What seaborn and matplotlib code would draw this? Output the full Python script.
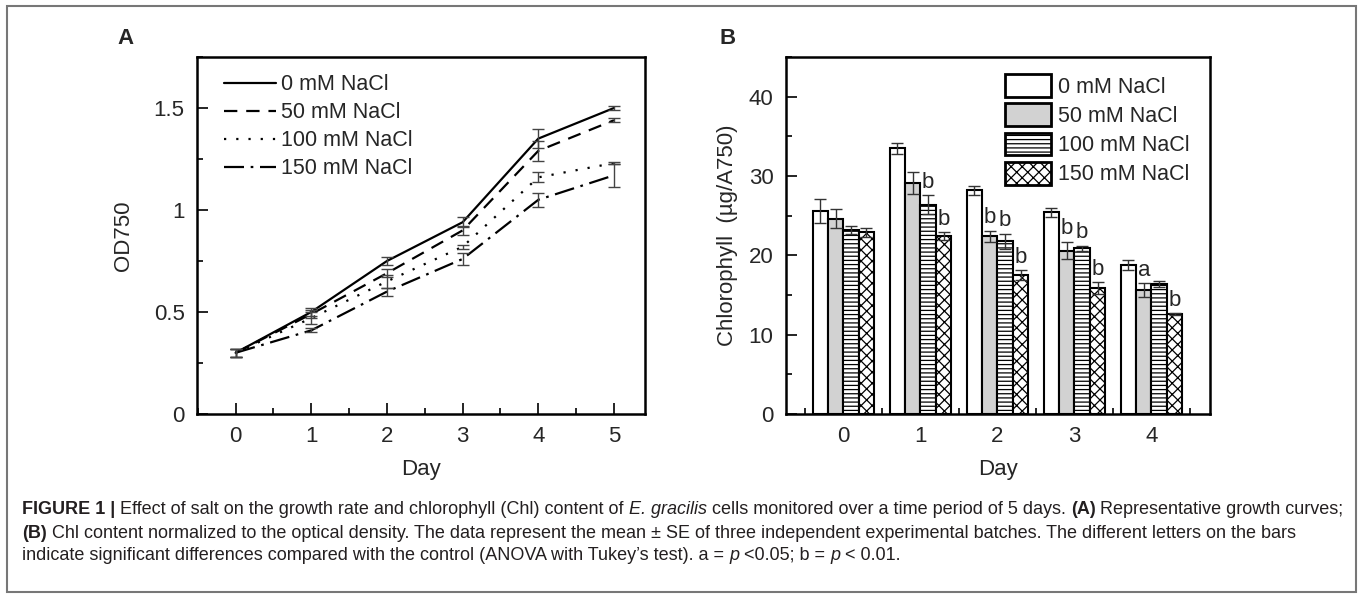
import numpy as np
import pandas as pd
import seaborn as sns
import matplotlib
matplotlib.use("Agg")
from matplotlib import pyplot as plt
from matplotlib.patches import Patch, Rectangle
from matplotlib.lines import Line2D
from matplotlib.ticker import MultipleLocator

# ---- panel A: growth curves (OD750) ----
days_a = [0, 1, 2, 3, 4, 5]
salts = ['0 mM NaCl', '50 mM NaCl', '100 mM NaCl', '150 mM NaCl']
od_0 = [0.30, 0.50, 0.75, 0.94, 1.35, 1.50]
od_50 = [0.30, 0.49, 0.69, 0.90, 1.29, 1.44]
od_100 = [0.30, 0.47, 0.65, 0.82, 1.16, 1.23]
od_150 = [0.30, 0.41, 0.60, 0.76, 1.05, 1.17]
od_err_0 = [0.02, 0.02, 0.02, 0.025, 0.046, 0.012]
od_err_50 = [0.02, 0.02, 0.02, 0.023, 0.05, 0.01]
od_err_100 = [0.02, 0.03, 0.03, 0.01, 0.025, 0.005]
od_err_150 = [0.02, 0.01, 0.02, 0.03, 0.035, 0.057]

# ---- panel B: chlorophyll content ----
days_b = [0, 1, 2, 3, 4]
chl_0 = [25.6, 33.5, 28.2, 25.4, 18.8]
chl_50 = [24.6, 29.1, 22.4, 20.6, 15.6]
chl_100 = [23.2, 26.4, 21.8, 20.9, 16.4]
chl_150 = [22.9, 22.4, 17.5, 15.9, 12.6]
chl_err_0 = [1.5, 0.7, 0.6, 0.55, 0.6]
chl_err_50 = [1.2, 1.4, 0.7, 1.1, 0.9]
chl_err_100 = [0.5, 1.2, 0.95, 0.3, 0.35]
chl_err_150 = [0.6, 0.5, 0.6, 0.75, 0.1]
sig_0 = ['', '', '', '', '']
sig_50 = ['', '', 'b', 'b', 'a']
sig_100 = ['', 'b', 'b', 'b', '']
sig_150 = ['', 'b', 'b', 'b', 'b']

od_means = [od_0, od_50, od_100, od_150]
od_errs = [od_err_0, od_err_50, od_err_100, od_err_150]
chl_means = [chl_0, chl_50, chl_100, chl_150]
chl_errs = [chl_err_0, chl_err_50, chl_err_100, chl_err_150]
sigs = [sig_0, sig_50, sig_100, sig_150]

df_a = pd.DataFrame([(d, s, v) for s, vals in zip(salts, od_means) for d, v in zip(days_a, vals)],
                    columns=['Day', 'salt', 'OD750'])
df_b = pd.DataFrame([(d, s, v) for s, vals in zip(salts, chl_means) for d, v in zip(days_b, vals)],
                    columns=['Day', 'salt', 'chl'])

sns.set_style('ticks')
plt.rcParams['font.family'] = ['Liberation Sans', 'DejaVu Sans']
plt.rcParams['hatch.linewidth'] = 0.9

W, H = 1360, 598
fig = plt.figure(figsize=(W / 100, H / 100), dpi=100)
axA = fig.add_axes([197 / W, 1 - 414 / H, (645 - 197) / W, (414 - 57) / H])
axB = fig.add_axes([786 / W, 1 - 414 / H, (1210 - 786) / W, (414 - 57) / H])

fs = 16
lfs = 15.5

# panel A
dash_map = {salts[0]: '', salts[1]: (6, 4), salts[2]: (1, 4.5), salts[3]: (9, 3, 1.2, 3)}
sns.lineplot(data=df_a, x='Day', y='OD750', hue='salt', style='salt', dashes=dash_map,
             palette=['black'] * 4, linewidth=1.6, legend=False, ax=axA)
for vals, errs in zip(od_means, od_errs):
    axA.errorbar(days_a, vals, yerr=errs, fmt='none', ecolor='#444444', elinewidth=1,
                 capsize=4, capthick=1)
axA.set_xlim(-0.51, 5.41)
axA.set_ylim(0, 1.75)
axA.xaxis.set_major_locator(MultipleLocator(1))
axA.xaxis.set_minor_locator(MultipleLocator(0.5))
axA.yaxis.set_minor_locator(MultipleLocator(0.25))
axA.set_yticks([0, 0.5, 1.0, 1.5])
axA.set_yticklabels(['0', '0.5', '1', '1.5'])
axA.set_xlabel('Day', fontsize=fs, labelpad=8)
axA.set_ylabel('OD750', fontsize=fs, labelpad=14)
handles_a = [Line2D([], [], color='black', lw=1.6, linestyle=(0, dash_map[s]) if dash_map[s] else '-')
             for s in salts]
axA.legend(handles_a, salts, loc='upper left', frameon=False, fontsize=lfs, handlelength=2.4,
           handletextpad=0.25, labelspacing=0.33, borderaxespad=0, borderpad=0,
           bbox_to_anchor=(0.06, 0.952))

# panel B
fills = ['white', '#d2d2d2', 'white', 'white']
hatches = ['', '', '----', 'xxx']
sns.barplot(data=df_b, x='Day', y='chl', hue='salt', palette=fills,
            edgecolor='black', linewidth=1.5, width=0.8, errorbar=None, ax=axB)
bar_conts = list(axB.containers)
for i, cont in enumerate(bar_conts):
    for j, bar in enumerate(cont.patches):
        bar.set_hatch(hatches[i])
        xc = bar.get_x() + bar.get_width() / 2
        top = chl_means[i][j] + chl_errs[i][j]
        axB.errorbar(xc, chl_means[i][j], yerr=chl_errs[i][j], fmt='none', ecolor='#333333',
                     elinewidth=1, capsize=4.5, capthick=1)
        if sigs[i][j]:
            axB.text(xc, top + 0.3, sigs[i][j], ha='center', va='bottom', fontsize=fs)
axB.set_xlim(-0.745, 4.76)
axB.set_ylim(0, 45)
axB.xaxis.set_minor_locator(MultipleLocator(0.5))
axB.yaxis.set_major_locator(MultipleLocator(10))
axB.yaxis.set_minor_locator(MultipleLocator(5))
axB.set_xlabel('Day', fontsize=fs, labelpad=8)
axB.set_ylabel('Chlorophyll  (\u00b5g/A750)', fontsize=fs, labelpad=8)
handles_b = [Patch(facecolor=fills[i], edgecolor='black', linewidth=2, hatch=hatches[i]) for i in range(4)]
axB.legend(handles_b, salts, loc='upper left', frameon=False, fontsize=lfs, handlelength=2.15,
           handleheight=1.25, handletextpad=0.3, labelspacing=0.26, borderaxespad=0, borderpad=0,
           bbox_to_anchor=(0.5165, 0.952))

for ax in (axA, axB):
    for sp in ax.spines.values():
        sp.set_visible(True)
        sp.set_linewidth(1.8)
        sp.set_color('black')
    ax.tick_params(which='both', direction='in', width=1.2, labelsize=fs, color='black')
    ax.tick_params(which='major', length=8, pad=9)
    ax.tick_params(which='minor', length=4)

fig.text(125 / W, 1 - 38 / H, 'A', fontsize=fs, weight='bold', ha='center', va='center')
fig.text(728 / W, 1 - 38 / H, 'B', fontsize=fs, weight='bold', ha='center', va='center')

# outer frame
fig.add_artist(Rectangle((7 / W, 1 - 592 / H), (1356 - 7) / W, (592 - 6) / H, transform=fig.transFigure,
                         fill=False, edgecolor='#777777', linewidth=1.5))

# caption with mixed weights
cap_lines = [
    [('FIGURE 1 |', 'bold', 'normal'), ('Effect of salt on the growth rate and chlorophyll (Chl) content of', 'normal', 'normal'),
     ('E. gracilis', 'normal', 'italic'), ('cells monitored over a time period of 5 days.', 'normal', 'normal'),
     ('(A)', 'bold', 'normal'), ('Representative growth curves;', 'normal', 'normal')],
    [('(B)', 'bold', 'normal'), ('Chl content normalized to the optical density. The data represent the mean \u00b1 SE of three '
                                 'independent experimental batches. The different letters on the bars', 'normal', 'normal')],
    [('indicate significant differences compared with the control (ANOVA with Tukey\u2019s test). a =', 'normal', 'normal'),
     ('p', 'normal', 'italic'), ('<0.05; b =', 'normal', 'normal'), ('p', 'normal', 'italic'), ('< 0.01.', 'normal', 'normal')],
]
cap_y = [510, 533, 555]
cap_fs = 13.0
cap_col = '#231f20'
renderer = fig.canvas.get_renderer()
probe = fig.text(0, 0, 'a a', fontsize=cap_fs)
w_sp = probe.get_window_extent(renderer).width
probe.set_text('aa')
w_sp -= probe.get_window_extent(renderer).width
probe.remove()
for runs, yy in zip(cap_lines, cap_y):
    x = 22.0
    for s, wgt, sty in runs:
        t = fig.text(x / W, 1 - yy / H, s, fontsize=cap_fs, weight=wgt, style=sty, color=cap_col,
                     ha='left', va='center')
        x += t.get_window_extent(renderer).width + w_sp

fig.savefig('out.png', dpi=100)
